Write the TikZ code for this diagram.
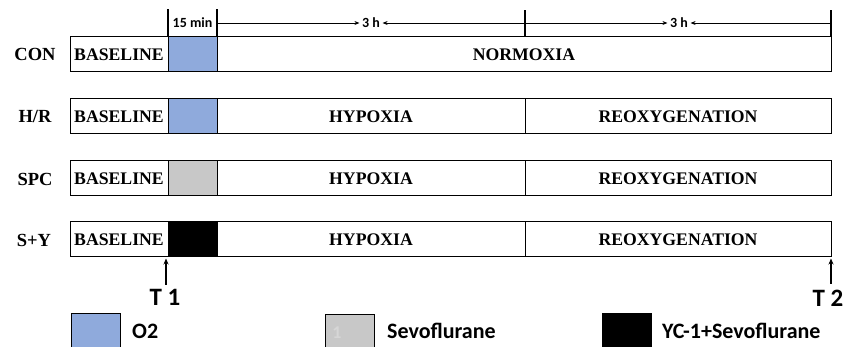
\documentclass[tikz,border=0pt]{standalone}
\usepackage{fontspec}
\setmainfont{Liberation Serif}
\newfontfamily\calib{Carlito}
\usetikzlibrary{arrows.meta}
\definecolor{oxblue}{HTML}{8FAADC}
\definecolor{sevogray}{HTML}{C8C8C8}
\definecolor{faintone}{HTML}{D6D6D6}
\begin{document}
\begin{tikzpicture}[x=1pt,y=-1pt,
 seg/.style={draw, line width=1pt, inner sep=0pt, outer sep=0pt, minimum height=35pt, anchor=north west, font=\fontsize{17.7}{17.7}\selectfont\bfseries},
 grp/.style={font=\fontsize{18.5}{18.5}\selectfont\bfseries, inner sep=0pt},
 dim/.style={font=\calib\fontsize{14}{14}\selectfont\bfseries, inner sep=0pt},
 tick/.style={line width=1.2pt},
 dimarrow/.style={line width=0.8pt, -{Stealth[length=5pt,width=4pt]}},
 tarrow/.style={line width=1.3pt, -{Stealth[length=6pt,width=5pt]}},
 tlab/.style={font=\calib\fontsize{25}{25}\selectfont\bfseries, inner sep=0pt},
 leg/.style={draw, line width=1pt, outer sep=0pt, minimum width=49pt, minimum height=45pt, anchor=north west, inner sep=0pt},
 legtext/.style={font=\calib\fontsize{22}{22}\selectfont\bfseries, inner sep=0pt, anchor=west}]
\useasboundingbox (0,0) rectangle (843,347);
\clip (0,0) rectangle (843,347);

% CON
\node[grp] (conL) at (35,54.5) {CON};
\node[seg, minimum width=98pt] (conB) at (70,37) {BASELINE};
\node[seg, minimum width=49pt, fill=oxblue] (conO) at (conB.north east) {};
\node[seg, minimum width=614pt] (conN) at (conO.north east) {NORMOXIA};

% H/R
\node[grp] (hrL) at (35,116.5) {H/R};
\node[seg, minimum width=98pt] (hrB) at (70,99) {BASELINE};
\node[seg, minimum width=49pt, fill=oxblue] (hrO) at (hrB.north east) {};
\node[seg, minimum width=308pt] (hrH) at (hrO.north east) {HYPOXIA};
\node[seg, minimum width=306pt] (hrR) at (hrH.north east) {REOXYGENATION};

% SPC
\node[grp] (spL) at (35,179) {SPC};
\node[seg, minimum width=98pt] (spB) at (70,161) {BASELINE};
\node[seg, minimum width=49pt, fill=sevogray] (spO) at (spB.north east) {};
\node[seg, minimum width=308pt] (spH) at (spO.north east) {HYPOXIA};
\node[seg, minimum width=306pt] (spR) at (spH.north east) {REOXYGENATION};

% S+Y
\node[grp] (syL) at (34,240) {S+Y};
\node[seg, minimum width=98pt] (syB) at (70,222) {BASELINE};
\node[seg, minimum width=49pt, fill=black] (syO) at (syB.north east) {};
\node[seg, minimum width=308pt] (syH) at (syO.north east) {HYPOXIA};
\node[seg, minimum width=306pt] (syR) at (syH.north east) {REOXYGENATION};

% top dimensions
\coordinate (k1) at (168,9);
\coordinate (k2) at (217,9);
\coordinate (k3b) at (525,37);
\coordinate (k3) at (525,10);
\coordinate (k4) at (831,10);
\draw[tick] (conB.north east) -- (k1);
\draw[tick] (conO.north east) -- (k2);
\draw[tick] (k3b) -- (k3);
\draw[tick] (conN.north east) -- (k4);
\node[dim] (min15) at (192.5,23) {15 min};
\node[dim, inner xsep=2.5pt] (h1) at (371,23) {3 h};
\node[dim, inner xsep=2.5pt] (h2) at (679,23) {3 h};
\coordinate (a1) at (217,23);
\coordinate (a2) at (525,23);
\coordinate (a3) at (831,23);
\draw[dimarrow] (a1) -- (h1.west);
\draw[dimarrow] (a2) -- (h1.east);
\draw[dimarrow] (a2) -- (h2.west);
\draw[dimarrow] (a3) -- (h2.east);

% time points
\node[tlab] (T1) at (165,297) {T 1};
\node[tlab] (T2) at (828,298) {T 2};
\coordinate (t1a) at (166,258.5);
\coordinate (t2a) at (831,258.5);
\draw[tarrow] (166,285) -- (t1a);
\draw[tarrow] (831,284) -- (t2a);

% legend
\node[leg, fill=oxblue] (lg1) at (71,313) {};
\node[legtext] (lt1) at (132,331) {O2};
\node[leg, fill=sevogray] (lg2) at (325,314) {};
\node[font=\calib\fontsize{18}{18}\selectfont\bfseries, text=faintone, inner sep=0pt] (lg2one) at (337,333) {1};
\node[legtext] (lt2) at (387,331) {Sevoflurane};
\node[leg, fill=black] (lg3) at (602,313) {};
\node[legtext] (lt3) at (662,331) {YC-1+Sevoflurane};
\end{tikzpicture}
\end{document}
